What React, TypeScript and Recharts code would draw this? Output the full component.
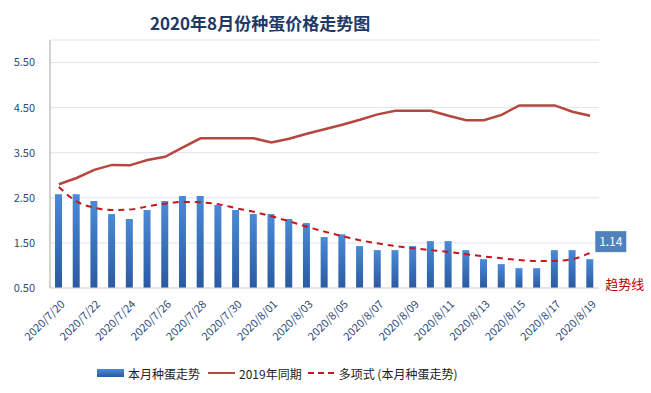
import React from "react";
import {
  ComposedChart,
  Bar,
  Line,
  XAxis,
  YAxis,
  CartesianGrid,
  Legend,
  LabelList,
} from "recharts";

// Categories (daily dates)
const dates = [
  "2020/7/20", "2020/7/21", "2020/7/22", "2020/7/23", "2020/7/24", "2020/7/25",
  "2020/7/26", "2020/7/27", "2020/7/28", "2020/7/29", "2020/7/30", "2020/7/31",
  "2020/8/01", "2020/8/02", "2020/8/03", "2020/8/04", "2020/8/05", "2020/8/06",
  "2020/8/07", "2020/8/08", "2020/8/09", "2020/8/10", "2020/8/11", "2020/8/12",
  "2020/8/13", "2020/8/14", "2020/8/15", "2020/8/16", "2020/8/17", "2020/8/18",
  "2020/8/19",
];

// 本月种蛋走势
const thisMonth = [
  2.58, 2.58, 2.43, 2.14, 2.03, 2.23, 2.43, 2.54, 2.54, 2.34, 2.23, 2.14, 2.14,
  2.03, 1.94, 1.63, 1.69, 1.43, 1.34, 1.34, 1.43, 1.54, 1.54, 1.34, 1.14, 1.03,
  0.94, 0.94, 1.34, 1.34, 1.14,
];

// 2019年同期
const lastYear = [
  2.8, 2.94, 3.12, 3.23, 3.22, 3.34, 3.41, 3.62, 3.82, 3.82, 3.82, 3.82, 3.73,
  3.81, 3.92, 4.02, 4.12, 4.23, 4.35, 4.43, 4.43, 4.43, 4.32, 4.22, 4.22, 4.34,
  4.55, 4.55, 4.55, 4.41, 4.32,
];

// 多项式 (本月种蛋走势) trend line
const trend = [
  2.74, 2.42, 2.28, 2.23, 2.24, 2.31, 2.37, 2.41, 2.4, 2.36, 2.27, 2.19, 2.09,
  1.98, 1.86, 1.75, 1.65, 1.56, 1.49, 1.43, 1.38, 1.34, 1.3, 1.25, 1.2, 1.16,
  1.12, 1.1, 1.1, 1.14, 1.28,
];

const yTicks = [0.5, 1.5, 2.5, 3.5, 4.5, 5.5];

const data = dates.map((d, i) => ({
  date: d,
  thisMonth: thisMonth[i],
  lastYear: lastYear[i],
  trend: trend[i],
}));

const FONT = "'Noto Sans CJK SC', 'Noto Sans', sans-serif";
const AXIS_TEXT = "#2e4a7a";

const DateTick = ({ x, y, payload }: any) => (
  <g transform={`translate(${x + 1},${y + 8})`}>
    <text
      x={0}
      y={0}
      dy={6}
      dx={2}
      textAnchor="end"
      transform="rotate(-45)"
      fontSize={11}
      fill={AXIS_TEXT}
      fontFamily={FONT}
    >
      {payload.value}
    </text>
  </g>
);

// value box on the last bar + the 趋势线 note
const LastLabel = (props: any) => {
  const { x, y, width, height, index, value } = props;
  if (index !== dates.length - 1) return null;
  const bx = x + width + 2;
  return (
    <g>
      <rect x={bx} y={y - 28} width={31} height={21} fill="#4f81bd" />
      <text
        x={bx + 15.5}
        y={y - 13}
        textAnchor="middle"
        fontSize={12}
        fill="#ffffff"
        fontFamily={FONT}
      >
        {value.toFixed(2)}
      </text>
      <text
        x={x + width + 12}
        y={y + height + 1}
        fontSize={13}
        fill="#c00000"
        fontFamily={FONT}
      >
        趋势线
      </text>
    </g>
  );
};

const LegendContent = () => (
  <div
    style={{
      height: 20,
      display: "flex",
      alignItems: "center",
      paddingLeft: 97,
      fontSize: 12,
      color: "#222",
      fontFamily: FONT,
    }}
  >
    <svg width={27} height={10} style={{ marginRight: 4 }}>
      <rect x={0} y={1} width={27} height={8} fill="url(#legendBar)" />
      <defs>
        <linearGradient id="legendBar" x1="0" y1="0" x2="0" y2="1">
          <stop offset="0%" stopColor="#4a8ad6" />
          <stop offset="100%" stopColor="#2a5aa2" />
        </linearGradient>
      </defs>
    </svg>
    <span style={{ marginRight: 8 }}>本月种蛋走势</span>
    <svg width={27} height={10} style={{ marginRight: 4 }}>
      <line x1={0} y1={5} x2={27} y2={5} stroke="#b5473f" strokeWidth={2} />
    </svg>
    <span style={{ marginRight: 6 }}>2019年同期</span>
    <svg width={27} height={10} style={{ marginRight: 4 }}>
      <line
        x1={0}
        y1={5}
        x2={27}
        y2={5}
        stroke="#c8161d"
        strokeWidth={2}
        strokeDasharray="6 4"
      />
    </svg>
    <span>多项式 (本月种蛋走势)</span>
  </div>
);

export default function App() {
  return (
    <div
      style={{
        position: "absolute",
        left: 0,
        top: 0,
        width: 651,
        height: 393,
        background: "#ffffff",
        fontFamily: FONT,
      }}
    >
      <div
        style={{
          position: "absolute",
          left: 150,
          top: 10,
          fontSize: 17,
          fontWeight: 700,
          color: "#1f3864",
          whiteSpace: "nowrap",
        }}
      >
        2020年8月份种蛋价格走势图
      </div>
      <ComposedChart
        width={651}
        height={393}
        data={data}
        margin={{ top: 40, right: 52, left: 0, bottom: 10 }}
      >
        <defs>
          <linearGradient id="barFill" x1="0" y1="0" x2="0" y2="1">
            <stop offset="0%" stopColor="#4a8ad6" />
            <stop offset="100%" stopColor="#2a5aa2" />
          </linearGradient>
        </defs>
        <CartesianGrid vertical={false} stroke="#dde3ee" />
        <XAxis
          dataKey="date"
          interval={1}
          height={75}
          tickLine={false}
          tickSize={4}
          tick={<DateTick />}
          axisLine={{ stroke: "#d9d9d9" }}
        />
        <YAxis
          width={50}
          domain={[0.5, 6]}
          ticks={yTicks}
          tickFormatter={(v: number) => v.toFixed(2)}
          tickLine={false}
          tickSize={0}
          tickMargin={15}
          tick={{ fontSize: 11, fill: AXIS_TEXT, fontFamily: FONT }}
          axisLine={{ stroke: "#a6a6a6" }}
        />
        <Legend verticalAlign="bottom" content={<LegendContent />} />
        <Bar
          dataKey="thisMonth"
          name="本月种蛋走势"
          fill="url(#barFill)"
          barSize={7}
          isAnimationActive={false}
        >
          <LabelList dataKey="thisMonth" content={<LastLabel />} />
        </Bar>
        <Line
          dataKey="lastYear"
          name="2019年同期"
          type="linear"
          stroke="#b5473f"
          strokeWidth={2.5}
          dot={false}
          isAnimationActive={false}
        />
        <Line
          dataKey="trend"
          name="多项式 (本月种蛋走势)"
          type="monotone"
          stroke="#c8161d"
          strokeWidth={2}
          strokeDasharray="6 5"
          dot={false}
          isAnimationActive={false}
        />
      </ComposedChart>
    </div>
  );
}
